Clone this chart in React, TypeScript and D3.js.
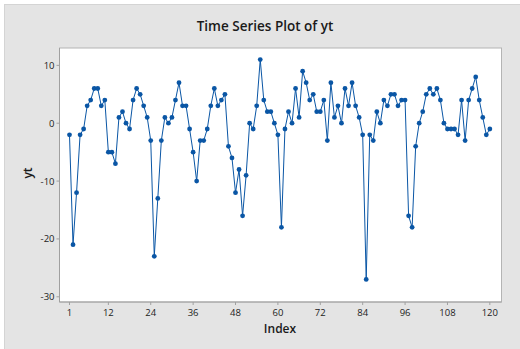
import * as React from 'react'
import * as d3 from 'd3'

// yt values, index 1..120
const yt: number[] = [
  -2, -21, -12, -2, -1, 3, 4, 6, 6, 3,
  4, -5, -5, -7, 1, 2, 0, -1, 4, 6,
  5, 3, 1, -3, -23, -13, -3, 1, 0, 1,
  4, 7, 3, 3, -1, -5, -10, -3, -3, -1,
  3, 6, 3, 4, 5, -4, -6, -12, -8, -16,
  -9, 0, -1, 3, 11, 4, 2, 2, 0, -2,
  -18, -1, 2, 0, 6, 1, 9, 7, 4, 5,
  2, 2, 4, -3, 7, 1, 3, 0, 6, 3,
  7, 3, 1, -2, -27, -2, -3, 2, 0, 4,
  3, 5, 5, 3, 4, 4, -16, -18, -4, 0,
  2, 5, 6, 5, 6, 4, 0, -1, -1, -1,
  -2, 4, -3, 4, 6, 8, 4, 1, -2, -1,
]
const xTicks = [1, 12, 24, 36, 48, 60, 72, 84, 96, 108, 120]
const yTicks = [-30, -20, -10, 0, 10]

const W = 520
const H = 349
const plot = { left: 59.5, top: 48, right: 501.5, bottom: 302 }
const font = "'Open Sans', 'Noto Sans', sans-serif"
const blue = '#0a56a5'

export default function App() {
  const x = d3.scaleLinear().domain([-1.83, 123.3]).range([plot.left, plot.right])
  const y = d3.scaleLinear().domain([-30.9, 13]).range([plot.bottom, plot.top])
  const pts = yt.map((v, i) => ({ i: i + 1, v }))
  const line = d3.line<{ i: number; v: number }>().x(d => x(d.i)).y(d => y(d.v))

  return (
    <svg width={W} height={H} style={{ position: 'absolute', left: 0, top: 0 }}>
      <rect x={0} y={0} width={W} height={H} fill="#fff" />
      <rect x={4.5} y={4.5} width={W} height={H} fill="#e4e4e4" stroke="#d4d4d4" />
      <text x={265} y={31} textAnchor="middle" fontFamily={font} fontWeight={600} fontSize={13.5} fill="#1a1a1a">
        Time Series Plot of yt
      </text>
      <rect x={plot.left} y={plot.top} width={plot.right - plot.left} height={plot.bottom - plot.top}
        fill="#fff" stroke="#b4b4b4" />
      <line x1={plot.left} x2={plot.left} y1={plot.top} y2={plot.bottom} stroke="#a0a0a0" />
      <line x1={plot.left} x2={plot.right} y1={plot.bottom} y2={plot.bottom} stroke="#a0a0a0" />
      {yTicks.map(t => (
        <g key={t}>
          <line x1={plot.left - 3} x2={plot.left} y1={y(t)} y2={y(t)} stroke="#a0a0a0" />
          <text x={plot.left - 5} y={y(t) + 3.5} textAnchor="end" fontFamily={font} fontSize={9.5} fill="#222">{t}</text>
        </g>
      ))}
      {xTicks.map(t => (
        <g key={t}>
          <line x1={x(t)} x2={x(t)} y1={plot.bottom} y2={plot.bottom + 3} stroke="#a0a0a0" />
          <text x={x(t)} y={plot.bottom + 14} textAnchor="middle" fontFamily={font} fontSize={9.5} fill="#222">{t}</text>
        </g>
      ))}
      <text x={280} y={333} textAnchor="middle" fontFamily={font} fontWeight={600} fontSize={12} fill="#1a1a1a">Index</text>
      <text transform="translate(32,173) rotate(-90)" textAnchor="middle" fontFamily={font} fontWeight={600} fontSize={12} fill="#1a1a1a">yt</text>
      <path d={line(pts) ?? ''} fill="none" stroke={blue} strokeWidth={1} />
      {pts.map(d => (
        <circle key={d.i} cx={x(d.i)} cy={y(d.v)} r={2.4} fill={blue} />
      ))}
    </svg>
  )
}
